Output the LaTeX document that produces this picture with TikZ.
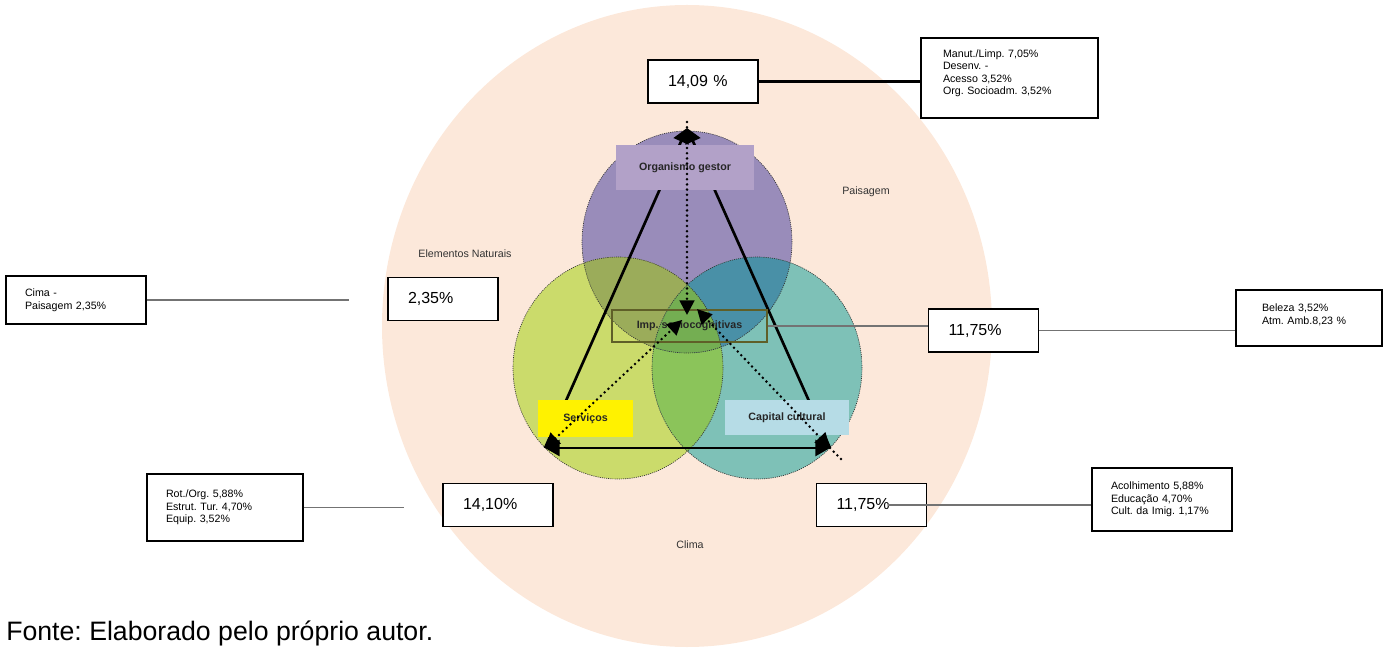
\documentclass[tikz,border=0pt]{standalone}
\usepackage{fontspec}
\setmainfont{Liberation Sans}
\usepackage{xcolor}
\usetikzlibrary{arrows.meta,positioning}
\frenchspacing
\definecolor{peach}{RGB}{252,232,218}
\definecolor{gestorcol}{RGB}{153,140,186}
\definecolor{servcol}{RGB}{203,219,107}
\definecolor{capcol}{RGB}{126,193,183}
\definecolor{olivecol}{RGB}{155,172,90}
\definecolor{bluecol}{RGB}{73,144,167}
\definecolor{greencol}{RGB}{139,196,90}
\definecolor{triplecol}{RGB}{116,174,82}
\definecolor{gestorfill}{RGB}{178,161,200}
\definecolor{capfill}{RGB}{182,220,230}
\definecolor{impdraw}{RGB}{95,95,40}
\tikzstyle{petal} = [x radius=78.75pt, y radius=83.25pt]
\tikzstyle{arrow} = [line width=2pt, ->, >={Triangle[length=11pt,width=12pt]}]
\tikzstyle{dotarrow} = [line width=2.1pt, line cap=round, dash pattern=on 0pt off 3.9pt, >={Triangle[length=11pt,width=11pt]}]
\tikzstyle{valbox} = [draw, line width=1.1pt, fill=white, text width=52.5pt, inner xsep=15pt, minimum height=32.25pt, align=left, font=\fontsize{12}{14}\selectfont]
\tikzstyle{infobox} = [draw, line width=1.1pt, fill=white, align=left, font=\fontsize{8}{9.4}\selectfont]
\tikzstyle{tag} = [inner sep=0pt, font=\fontsize{8}{9}\selectfont\bfseries, text=black!85]

\begin{document}
\begin{tikzpicture}[x=0.75pt, y=-0.75pt]
	\useasboundingbox (0,0) rectangle (1388,648);
	\coordinate (centre) at (687,326);
	\coordinate (gestor) at (687,242);
	\coordinate (servicos) at (618,368);
	\coordinate (capital) at (757,368);
	\coordinate (apex) at (687,128);
	\coordinate (lcorner) at (545,448);
	\coordinate (rcorner) at (830,448);
	\coordinate (dottop) at (687,122);
	\coordinate (dotmid) at (687,315);
	\coordinate (dotleft) at (682,320);
	\coordinate (dotright) at (697,309);
	\coordinate (dotend) at (843,461);
	\coordinate (cimaend) at (349,300);
	\coordinate (rotend) at (404,507);
	\coordinate (acolstart) at (888,505);
	% Paisagem background
	\fill[peach] (centre) ellipse [x radius=228.75pt, y radius=240.75pt];
	% circles
	\fill[gestorcol] (gestor) ellipse [petal];
	\fill[servcol] (servicos) ellipse [petal];
	\fill[capcol] (capital) ellipse [petal];
	\begin{scope}
	\clip (servicos) ellipse [petal];
	\fill[greencol] (capital) ellipse [petal];
	\end{scope}
	\begin{scope}
	\clip (gestor) ellipse [petal];
	\fill[olivecol] (servicos) ellipse [petal];
	\fill[bluecol] (capital) ellipse [petal];
	\clip (servicos) ellipse [petal];
	\fill[triplecol] (capital) ellipse [petal];
	\end{scope}
	\begin{scope}[line width=0.5pt, dash pattern=on 0.8pt off 0.8pt, black!80]
	\draw (gestor) ellipse [petal];
	\draw (servicos) ellipse [petal];
	\draw (capital) ellipse [petal];
	\end{scope}
	% triangle
	\draw [arrow] (lcorner)--(apex);
	\draw [arrow] (rcorner)--(apex);
	\draw [arrow, <->] (lcorner)--(rcorner);
	% dimensions
	\begin{scope}[every node/.style={tag, minimum width=103.5pt, minimum height=33.75pt, fill=gestorfill}]
	\node (orggestor) at (685,167.5) {Organismo gestor};
	\end{scope}
	\node[tag, minimum width=71.25pt, minimum height=27.75pt, fill=yellow] (serv) at (585.5,418.5) {Serviços};
	\node[tag, minimum width=93pt, minimum height=26.25pt, fill=capfill] (capcult) at (787,417.5) {Capital cultural};
	\node[tag, minimum width=116.25pt, minimum height=24pt, draw=impdraw, line width=0.8pt] (imp) at (689.5,326) {Imp. sociocognitivas};
	% dotted arrows
	\draw [dotarrow, ->] (dottop)--(dotmid);
	\draw [dotarrow, <->] (lcorner)--(dotleft);
	\draw [dotarrow, <->] (rcorner)--(dotright);
	\draw [dotarrow] (rcorner)--(dotend);
	% plain labels
	\begin{scope}[every node/.style={font=\fontsize{8}{9}\selectfont, text=black!80}]
	\node (elem) at (465,254) {Elementos Naturais};
	\node (paisagem) at (866,192) {Paisagem};
	\node (clima) at (690,545) {Clima};
	\end{scope}
	% percentages
	\node[valbox] (v1409) at (703,81.5) {14,09 \%};
	\node[valbox] (v235) at (443,299) {2,35\%};
	\node[valbox] (v1175a) at (983.5,330.5) {11,75\%};
	\node[valbox] (v1410) at (498,505) {14,10\%};
	\node[valbox] (v1175b) at (871.5,505) {11,75\%};
	% details
	\node[infobox, text width=99.75pt, inner xsep=16.5pt, minimum height=60pt] (manut) at (1009.5,78) {Manut./Limp. 7,05\%\\Desenv. -\\Acesso 3,52\%\\Org. Socioadm. 3,52\%\\[-0.4pt]\mbox{}};
	\node[infobox, text width=76.5pt, inner xsep=14.25pt, minimum height=36pt] (cima) at (76,300) {Cima -\\Paisagem 2,35\%};
	\node[infobox, text width=70.5pt, inner xsep=19.5pt, minimum height=42pt] (beleza) at (1309,318) {Beleza 3,52\%\\Atm. Amb.8,23 \%\\[-3.4pt]\mbox{}};
	\node[infobox, text width=88.5pt, inner xsep=14.25pt, minimum height=50.25pt] (rot) at (225,507.5) {Rot./Org. 5,88\%\\Estrut. Tur. 4,70\%\\Equip. 3,52\%};
	\node[infobox, text width=76.5pt, inner xsep=14.25pt, minimum height=47.25pt] (acol) at (1162,499.5) {Acolhimento 5,88\%\\Educação 4,70\%\\Cult. da Imig. 1,17\%};
	% leaders
	\draw [line width=2pt] (v1409.east)--(v1409.east -| manut.west);
	\draw [black!55, line width=1.5pt] (imp.east)--(imp.east -| v1175a.west);
	\draw [black!55, line width=0.8pt] (v1175a.east)--(v1175a.east -| beleza.west);
	\draw [black!55, line width=0.8pt] (cima.east)--(cima.east -| cimaend);
	\draw [black!55, line width=0.8pt] (rot.east)--(rot.east -| rotend);
	\draw [black!55, line width=0.8pt] (acolstart)--(acolstart -| acol.west);
	% source
	\node[anchor=base west, font=\fontsize{20}{24}\selectfont, inner sep=0pt] (fonte) at (6,640) {Fonte: Elaborado pelo próprio autor.};
\end{tikzpicture}
\end{document}
